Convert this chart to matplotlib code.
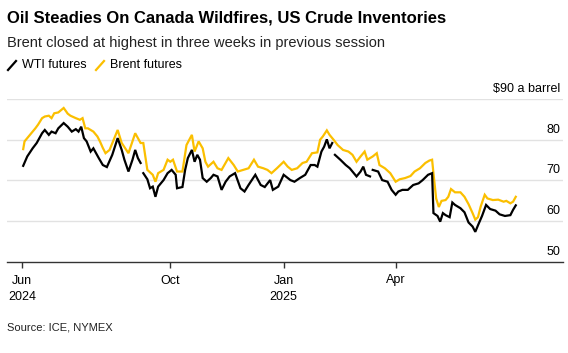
import numpy as np
import matplotlib
matplotlib.use("Agg")
import matplotlib.pyplot as plt
import matplotlib.transforms as mtransforms
from matplotlib.lines import Line2D

# days since start of series (early June 2024), prices in $ a barrel
brent_day = [0, 1, 4, 7, 9, 11, 14, 16, 19, 21, 23, 26, 30, 33, 35, 39, 42, 44, 46, 48,
             52, 55, 57, 59, 61, 64, 70, 73, 78, 83, 87, 89, 92, 96, 98, 100, 104, 107,
             109, 111, 114, 118, 121, 125, 127, 130, 133, 135, 137, 141, 144, 147, 152,
             156, 159, 163, 167, 171, 174, 178, 181, 184, 188, 193, 196, 199, 203, 207,
             210, 214, 218, 220, 222, 225, 227, 230, 233, 237, 241, 244, 247, 250, 253,
             255, 259, 262, 264, 268, 272, 276, 279, 283, 287, 290, 294, 298, 301, 303,
             304, 306, 308, 310, 313, 315, 317, 320, 324, 327, 330, 333, 335, 337, 339,
             342, 344, 348, 352, 356, 358, 361, 363, 365]
brent = [77.7, 79.6, 80.8, 82.0, 82.8, 83.7, 85.3, 85.7, 85.9, 85.3, 86.5, 86.7, 87.8,
         86.4, 85.9, 85.3, 84.9, 85.3, 82.8, 82.8, 82.0, 80.8, 79.5, 78.0, 76.7, 77.5,
         82.4, 79.2, 76.7, 81.6, 79.2, 79.2, 72.6, 71.4, 69.7, 71.8, 72.6, 75.1, 74.6,
         75.1, 72.2, 72.2, 78.7, 81.2, 77.1, 79.6, 77.9, 74.6, 73.4, 74.6, 73.0, 72.6,
         75.5, 73.8, 72.2, 72.6, 73.0, 75.1, 73.4, 73.0, 72.6, 71.8, 73.0, 74.6, 73.4,
         72.6, 73.0, 74.3, 74.6, 76.7, 76.9, 80.0, 80.8, 82.3, 81.2, 80.0, 78.7, 77.5,
         77.1, 76.3, 74.6, 75.9, 77.1, 75.1, 75.9, 76.7, 73.8, 73.0, 71.8, 69.7, 70.3,
         70.6, 71.1, 72.2, 73.0, 74.3, 74.9, 75.1, 71.8, 65.6, 63.5, 65.0, 65.2, 66.0,
         67.9, 67.1, 67.1, 66.0, 64.2, 62.0, 60.4, 61.0, 63.6, 66.5, 65.6, 65.2, 65.3,
         64.8, 65.0, 64.4, 64.8, 66.0]

# NaN marks the sessions missing from the WTI line
wti_day = [0, 3, 7, 10, 14, 16, 19, 21, 24, 26, 30, 33, 36, 39, 41, 43, 45, 47, 50, 52,
           56, 59, 62, 66, 70, 73, 75, 78, 81, 83, 85, 87, 88, 89, 92, 94, 96, 98, 100,
           104, 107, 110, 113, 114, 118, 120, 122, 125, 127, 129, 131, 133, 136, 139,
           141, 144, 147, 150, 153, 157, 161, 164, 167, 172, 176, 179, 183, 185, 189,
           193, 196, 198, 201, 205, 209, 213, 216, 218, 221, 223, 225, 227, 229, 230,
           231, 235, 239, 242, 247, 250, 252, 254, 257, 258, 259, 263, 266, 270, 273,
           276, 278, 281, 285, 289, 293, 296, 300, 303, 304, 307, 309, 311, 313, 316,
           318, 320, 324, 327, 330, 333, 335, 337, 340, 343, 346, 350, 353, 357, 361,
           363, 365]
wti = [73.6, 75.9, 77.9, 79.2, 81.6, 82.4, 81.2, 82.0, 81.6, 82.8, 84.1, 83.2, 82.0,
       82.6, 82.0, 83.2, 80.4, 79.6, 77.1, 77.9, 75.5, 73.8, 73.3, 76.3, 80.4, 77.5,
       75.1, 72.2, 75.1, 77.5, 75.5, 74.3, np.nan, 71.8, 70.3, 68.1, 68.5, 66.0, 68.5,
       70.1, 71.8, 72.6, 71.4, 68.1, 68.4, 72.6, 75.5, 77.5, 74.6, 76.3, 75.1, 70.6,
       69.7, 70.6, 71.4, 71.0, 67.7, 69.7, 71.0, 71.8, 68.1, 67.3, 68.9, 71.4, 68.9,
       68.4, 70.1, 67.7, 68.5, 71.4, 70.6, 70.1, 69.7, 70.6, 71.4, 73.8, 73.8, 73.4,
       77.1, 78.3, 80.1, 77.9, 79.2, np.nan, 76.3, 75.1, 73.8, 73.0, 71.0, 72.2, 73.4,
       71.4, 71.0, np.nan, 72.6, 72.2, 70.1, 69.7, 67.7, 66.5, 67.3, 67.7, 67.7, 68.9,
       69.3, 70.1, 71.4, 71.8, 62.0, 61.3, 59.9, 62.0, 61.5, 61.0, 64.6, 64.0, 63.2,
       62.2, 59.7, 58.7, 57.4, 59.0, 61.3, 64.0, 63.0, 62.6, 61.7, 61.3, 61.5, 62.8,
       63.9]

tick_days = [-1, 109, 193, 276]
tick_labels = ["Jun\n2024", "Oct", "Jan\n2025", "Apr"]
y_ticks = [50, 60, 70, 80, 90]
y_labels = ["50", "60", "70", "80", "$90 a barrel"]

YELLOW = "#FBBF00"
GRID = "#e2e2e2"

plt.rcParams["font.family"] = ["Liberation Sans", "DejaVu Sans"]

fig = plt.figure(figsize=(5.68, 3.53), dpi=100)
W, H = 568, 353
ax = fig.add_axes([7 / W, (H - 262) / H, 556 / W, 163 / H])

ax.plot(brent_day, brent, color=YELLOW, lw=1.6, solid_joinstyle="miter")
ax.plot(wti_day, wti, color="black", lw=1.6, solid_joinstyle="miter")

ax.set_xlim(-12, 400)
ax.set_ylim(50, 90)
for v in y_ticks[1:]:
    ax.axhline(v, color=GRID, lw=1, zorder=0)

for s in ["top", "right", "left"]:
    ax.spines[s].set_visible(False)
ax.spines["bottom"].set_color("#333333")
ax.spines["bottom"].set_linewidth(1)

ax.set_yticks([])
ax.set_xticks(tick_days)
ax.set_xticklabels(tick_labels, fontsize=9, color="black", linespacing=1.5)
ax.tick_params(axis="x", length=4, width=1, color="#333333", pad=5)

# y labels sit above their gridlines at the right edge
trans = mtransforms.blended_transform_factory(ax.transAxes, ax.transData)
trans = mtransforms.offset_copy(trans, fig=fig, x=-3, y=7, units="dots")
for v, lab in zip(y_ticks, y_labels):
    ax.text(1.0, v, lab, transform=trans, ha="right", va="baseline",
            fontsize=9, color="black")

fig.text(7 / W, 1 - 18 / H, "Oil Steadies On Canada Wildfires, US Crude Inventories",
         fontsize=12, fontweight="bold", va="center", ha="left")
fig.text(7 / W, 1 - 43 / H, "Brent closed at highest in three weeks in previous session",
         fontsize=10.5, va="center", ha="left", color="#222222")

# legend
fig.add_artist(Line2D([8 / W, 16 / W], [1 - 70 / H, 1 - 61 / H], color="black", lw=1.6))
fig.text(22 / W, 1 - 65 / H, "WTI futures", fontsize=9, va="center", ha="left")
fig.add_artist(Line2D([96 / W, 104 / W], [1 - 70 / H, 1 - 61 / H], color=YELLOW, lw=1.6))
fig.text(110 / W, 1 - 65 / H, "Brent futures", fontsize=9, va="center", ha="left")

fig.text(7 / W, 1 - 327 / H, "Source: ICE, NYMEX", fontsize=8, va="center", ha="left",
         color="#222222")

fig.savefig("out.png", dpi=100)
